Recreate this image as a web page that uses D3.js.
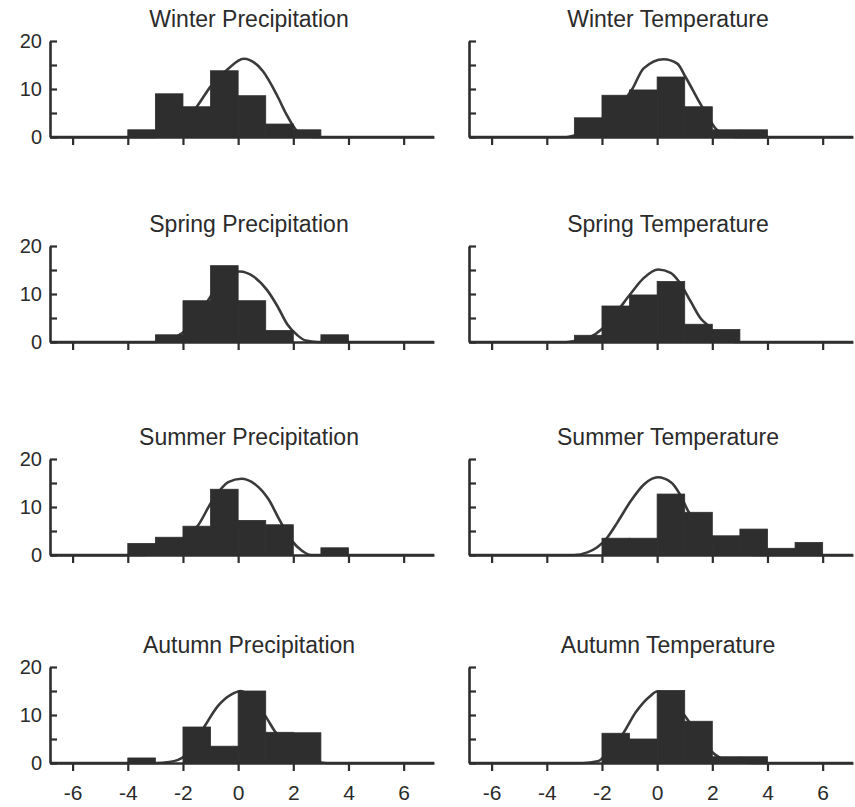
<!DOCTYPE html>
<html>
<head>
<meta charset="utf-8">
<script src="https://cdn.jsdelivr.net/npm/d3@7"></script>
<style>
  body { margin: 0; background: #fff; }
  text { font-family: "Liberation Sans", Arial, sans-serif; fill: #2b2b2b; }
</style>
</head>
<body>
<div id="chart"></div>
<script>
// panel titles, in reading order (row by row, left then right)
let titles = ["Winter Precipitation", "Winter Temperature",
              "Spring Precipitation", "Spring Temperature",
              "Summer Precipitation", "Summer Temperature",
              "Autumn Precipitation", "Autumn Temperature"]

// left edge of each 1-wide bin
let binStarts = [-6, -5, -4, -3, -2, -1, 0, 1, 2, 3, 4, 5, 6]

// bar heights, one per bin
let winterPrecip = [0, 0, 1.5, 9, 6.3, 13.8, 8.6, 2.7, 1.5, 0, 0, 0, 0]
let winterTemp   = [0, 0, 0, 4.0, 8.7, 9.8, 12.5, 6.3, 1.5, 1.5, 0, 0, 0]
let springPrecip = [0, 0, 0, 1.5, 8.6, 15.9, 8.6, 2.4, 0, 1.5, 0, 0, 0]
let springTemp   = [0, 0, 0, 1.4, 7.5, 9.8, 12.6, 3.7, 2.6, 0, 0, 0, 0]
let summerPrecip = [0, 0, 2.4, 3.7, 6.0, 13.7, 7.2, 6.3, 0, 1.5, 0, 0, 0]
let summerTemp   = [0, 0, 0, 0, 3.5, 3.5, 12.7, 8.9, 4.0, 5.4, 1.4, 2.6, 0]
let autumnPrecip = [0, 0, 1.05, 0, 7.5, 3.5, 15.0, 6.4, 6.3, 0, 0, 0, 0]
let autumnTemp   = [0, 0, 0, 0, 6.2, 5.0, 15.1, 8.7, 1.3, 1.3, 0, 0, 0]

// fitted curve, points [x, y]
let winterPrecipCurve = [[-6.8, 0], [-3, 0], [-2.5, 0.8], [-2, 3], [-1.5, 6.3], [-1, 10.5], [-0.4, 14], [0.2, 16.3],
  [0.9, 13.7], [1.4, 8.8], [1.76, 4.6], [2.06, 1.75], [2.3, 0.35], [2.7, 0], [7.1, 0]]
let winterTempCurve = [[-6.8, 0], [-3.3, 0], [-3, 0.3], [-2.5, 1.0], [-2, 2.5], [-1.5, 5.3], [-0.9, 10], [-0.49, 14.3],
  [0.24, 16.2], [0.73, 15.3], [1.03, 12.5], [1.46, 8.0], [1.88, 3.8], [2.13, 1.7], [2.37, 0.7], [2.8, 0], [7.1, 0]]
let springPrecipCurve = [[-6.8, 0], [-3, 0], [-2.5, 0.5], [-2, 2], [-1.5, 5], [-1, 9.5], [-0.5, 13.5], [0.06, 14.7],
  [0.57, 13.6], [1.05, 10.8], [1.42, 7.5], [1.78, 3.7], [2.15, 1.4], [2.45, 0.3], [2.9, 0], [7.1, 0]]
let springTempCurve = [[-6.8, 0], [-3.3, 0], [-3, 0.2], [-2.5, 0.8], [-2, 2.7], [-1.5, 6], [-0.97, 10], [-0.49, 13.3],
  [0.04, 15.1], [0.49, 14.4], [0.79, 12.6], [1.22, 8.4], [1.58, 4.9], [1.88, 3.2], [2.07, 1.8], [2.3, 0.7], [2.8, 0], [7.1, 0]]
let summerPrecipCurve = [[-6.8, 0], [-3.4, 0], [-3, 0.3], [-2.5, 1.2], [-2, 3.3], [-1.45, 6.2], [-0.97, 11], [-0.36, 15.2],
  [0.12, 15.9], [0.6, 14.8], [1.09, 11.7], [1.51, 7.2], [1.93, 3.1], [2.29, 1.0], [2.65, 0], [7.1, 0]]
let summerTempCurve = [[-6.8, 0], [-3.02, 0], [-2.53, 0.55], [-2.17, 1.6], [-1.8, 3.7], [-1.44, 6.8], [-0.95, 11.3],
  [-0.46, 14.8], [0.02, 16.2], [0.51, 15.1], [0.82, 12.7], [1.12, 9.2], [1.5, 6], [2, 3], [2.5, 1.2], [3, 0.4], [3.5, 0], [7.1, 0]]
let autumnPrecipCurve = [[-6.8, 0], [-3, 0], [-2.5, 0.2], [-2.2, 0.6], [-2, 1.2], [-1.6, 4], [-1.21, 7.7], [-0.73, 11.9],
  [-0.24, 14.3], [0.1, 15.0], [0.5, 13.5], [1.03, 9.4], [1.33, 6.6], [1.8, 3.5], [2.3, 1.3], [2.8, 0.3], [3.2, 0], [7.1, 0]]
let autumnTempCurve = [[-6.8, 0], [-2.7, 0], [-2.16, 0.35], [-1.7, 2.8], [-1.25, 6.0], [-0.77, 10.6], [-0.28, 13.8],
  [0, 14.9], [0.4, 14.3], [0.97, 10.1], [1.12, 8.9], [1.5, 5.6], [2.09, 1.8], [2.5, 0.5], [3, 0.1], [3.5, 0], [7.1, 0]]

let counts = [winterPrecip, winterTemp, springPrecip, springTemp, summerPrecip, summerTemp, autumnPrecip, autumnTemp]
let curves = [winterPrecipCurve, winterTempCurve, springPrecipCurve, springTempCurve,
              summerPrecipCurve, summerTempCurve, autumnPrecipCurve, autumnTempCurve]

let xTicks = [-6, -4, -2, 0, 2, 4, 6]
let yTicks = [0, 5, 10, 15, 20]
let yLabels = [0, 10, 20]

// layout
let width = 855, height = 807
let rowBottoms = [137, 342, 555, 763]
let colLefts = [50, 469]
let plotW = 384, plotH = 96
let ink = "#2e2e2e"

let svg = d3.select("#chart").append("svg")
    .attr("width", width)
    .attr("height", height)

titles.forEach(function (title, i) {
    let row = Math.floor(i / 2), col = i % 2
    let left = colLefts[col], bottom = rowBottoms[row]

    let x = d3.scaleLinear().domain([-6.82, 7.1]).range([left, left + plotW])
    let y = d3.scaleLinear().domain([0, 20]).range([bottom, bottom - plotH])

    let g = svg.append("g")

    // fitted curve (bars go over it, as in the figure)
    let line = d3.line()
        .x(function (d) { return x(d[0]) })
        .y(function (d) { return y(d[1]) })
        .curve(d3.curveMonotoneX)

    g.append("path")
        .datum(curves[i])
        .attr("d", line)
        .attr("fill", "none")
        .attr("stroke", "#3a3a3a")
        .attr("stroke-width", 2.6)

    let bars = binStarts.map(function (s, k) { return { start: s, value: counts[i][k] } })
        .filter(function (d) { return d.value > 0 })

    g.selectAll("rect")
        .data(bars)
        .enter().append("rect")
        .attr("x", function (d) { return x(d.start) })
        .attr("width", function (d) { return x(d.start + 1) - x(d.start) })
        .attr("y", function (d) { return y(d.value) })
        .attr("height", function (d) { return y(0) - y(d.value) })
        .attr("fill", ink)
        .attr("stroke", ink)
        .attr("stroke-width", 0.8)

    // x axis, ticks pointing down; numbers only on the bottom row
    let xAxisG = g.append("g")
        .attr("transform", "translate(0," + bottom + ")")
        .call(d3.axisBottom(x).tickValues(xTicks).tickSize(8).tickSizeOuter(0)
            .tickFormat(function (d) { return row === 3 ? (d < 0 ? "-" + Math.abs(d) : d) : "" }))
    xAxisG.select(".domain").attr("stroke", ink).attr("stroke-width", 2.6)
    xAxisG.selectAll(".tick line").attr("stroke", ink).attr("stroke-width", 2.2)
    xAxisG.selectAll(".tick text")
        .attr("y", 22)
        .style("font-size", "21px")
        .style("font-family", "'Liberation Sans', Arial, sans-serif")
        .attr("fill", "#2b2b2b")

    // y axis, ticks pointing in; numbers only on the left column
    let yAxisG = g.append("g")
        .attr("transform", "translate(" + left + ",0)")
        .call(d3.axisLeft(y).tickValues(yTicks).tickSize(-7).tickSizeOuter(0)
            .tickFormat(function (d) { return (col === 0 && yLabels.includes(d)) ? d : "" }))
    yAxisG.select(".domain").attr("stroke", ink).attr("stroke-width", 2.6)
    yAxisG.selectAll(".tick line").attr("stroke", ink).attr("stroke-width", 2.2)
    yAxisG.selectAll(".tick text")
        .attr("x", -8)
        .style("font-size", "20px")
        .style("font-family", "'Liberation Sans', Arial, sans-serif")
        .attr("fill", "#2b2b2b")

    g.append("text")
        .attr("x", left + 199)
        .attr("y", bottom - plotH - 14)
        .attr("text-anchor", "middle")
        .style("font-size", "23px")
        .text(title)
})
</script>
</body>
</html>
